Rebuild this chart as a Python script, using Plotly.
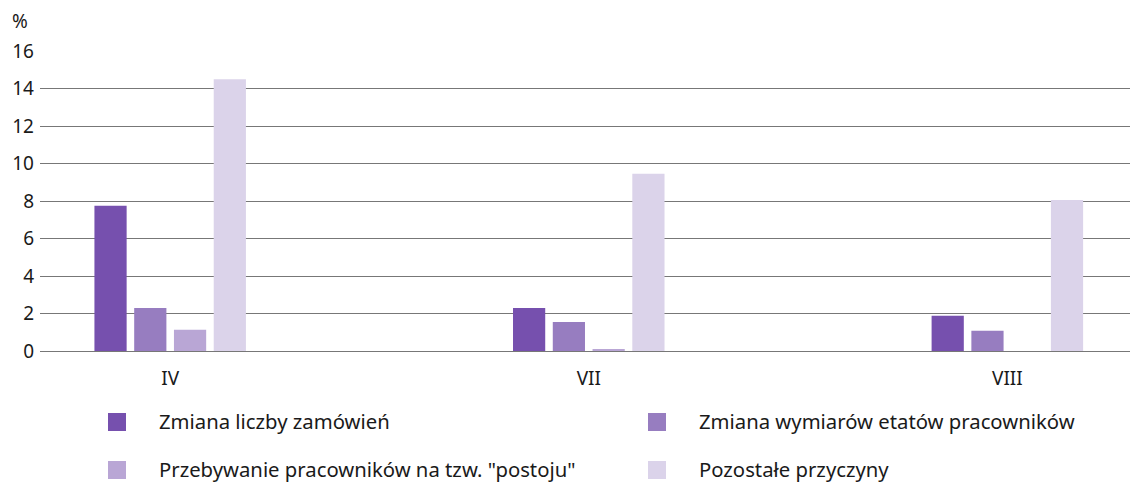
import plotly.graph_objects as go

categories = ["IV", "VII", "VIII"]
series_names = [
    "Zmiana liczby zamówień",
    "Zmiana wymiarów etatów pracowników",
    "Przebywanie pracowników na tzw. \"postoju\"",
    "Pozostałe przyczyny",
]
s1 = [7.75, 2.3, 1.88]
s2 = [2.3, 1.55, 1.08]
s3 = [1.13, 0.08, 0.0]
s4 = [14.5, 9.45, 8.05]
colors = ["#7650ae", "#977dc0", "#b9a6d5", "#dbd3ea"]
y_ticks = [0, 2, 4, 6, 8, 10, 12, 14, 16]

FONT = "Noto Sans"
fig = go.Figure()
for name, vals, col in zip(series_names, [s1, s2, s3, s4], colors):
    fig.add_trace(go.Bar(x=categories, y=vals, name=name, marker_color=col,
                         marker_line_width=0, showlegend=False))

# manual legend (two columns)
W, H = 1130, 482
ml, mr, mt, mb = 40, 0, 51, 131
pw, ph = W - ml - mr, H - mt - mb
leg_pos = [(108, 422), (648, 422), (108, 470), (648, 470)]
for (px, py), name, col in zip(leg_pos, series_names, colors):
    x0 = (px - ml) / pw
    x1 = (px + 18 - ml) / pw
    y0 = (H - mb - (py + 9)) / ph
    y1 = (H - mb - (py - 9)) / ph
    fig.add_shape(type="rect", xref="paper", yref="paper", x0=x0, x1=x1, y0=y0, y1=y1,
                  fillcolor=col, line_width=0)
    fig.add_annotation(xref="paper", yref="paper", x=(px + 50 - ml) / pw, y=(H - mb - py + 1) / ph,
                       text=name, showarrow=False, xanchor="left", yanchor="middle",
                       borderpad=0,
                       font=dict(size=20.3, color="#1a1a1a", family=FONT))

fig.add_annotation(xref="paper", yref="paper", x=(10 - ml) / pw, y=(H - mb - 21) / ph,
                   text="%", showarrow=False, xanchor="left", yanchor="middle",
                   font=dict(size=19, color="#1a1a1a", family=FONT))

fig.update_layout(
    width=W, height=H,
    margin=dict(l=ml, r=mr, t=mt, b=mb),
    plot_bgcolor="white", paper_bgcolor="white",
    barmode="group", bargap=0.62, bargroupgap=0.19,
    font=dict(family=FONT, size=19, color="#1a1a1a"),
    xaxis=dict(range=[-0.311, 2.293], showgrid=False, showline=False, ticks="",
               tickfont=dict(size=19, family=FONT, color="#1a1a1a"), ticklabelstandoff=14),
    yaxis=dict(range=[0, 16], tickvals=y_ticks, showgrid=True, gridcolor="#777777",
               gridwidth=1, zeroline=True, zerolinecolor="#777777", zerolinewidth=1,
               showline=False, ticks="", tickfont=dict(size=19, family=FONT, color="#1a1a1a"),
               ticklabelstandoff=5),
)

fig.write_html("out.html", config={"displayModeBar": False},
               post_script="document.body.style.margin='0';document.body.style.padding='0';")
